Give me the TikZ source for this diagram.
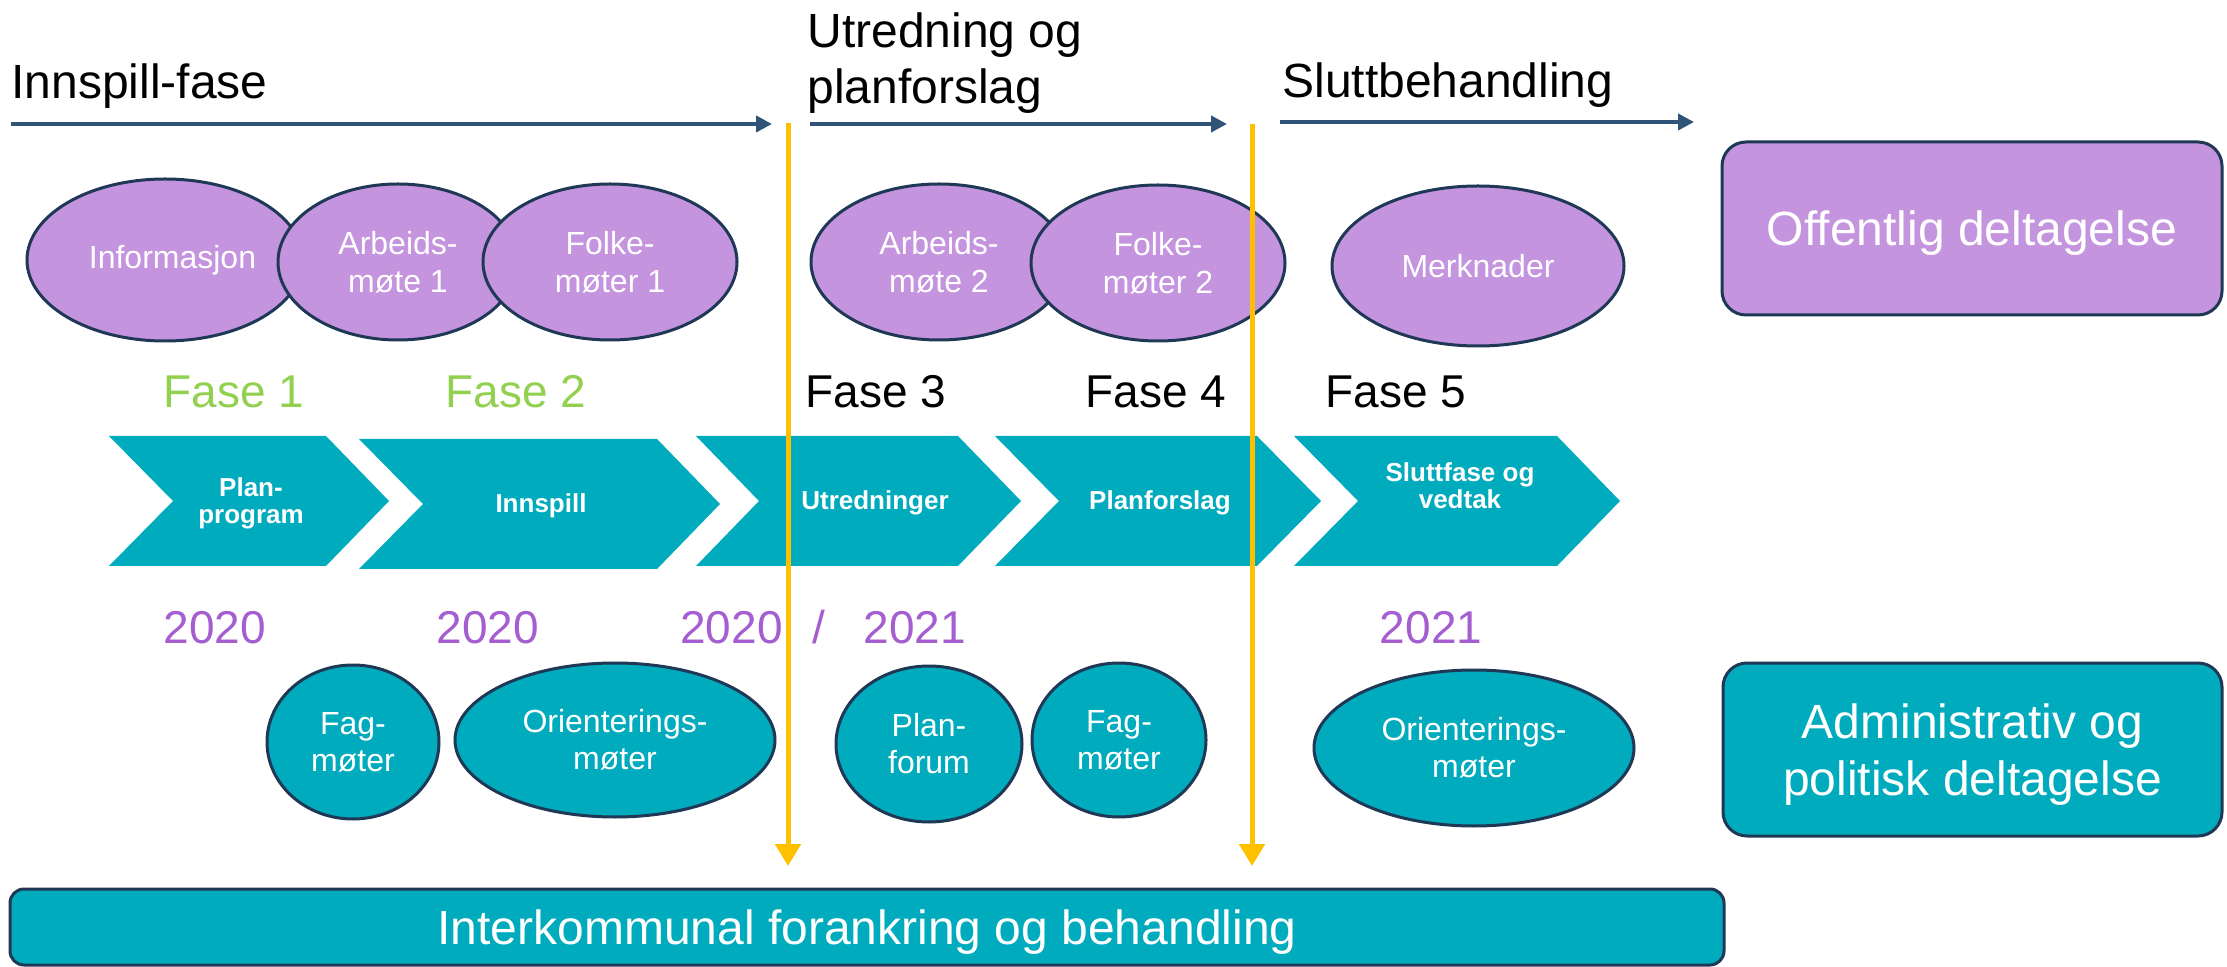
\documentclass[tikz,border=0pt]{standalone}
\usepackage{fontspec}
\setmainfont{Liberation Sans}
\usetikzlibrary{shapes.geometric,arrows.meta}
\definecolor{lilac}{RGB}{196,148,222}
\definecolor{navy}{RGB}{31,56,86}
\definecolor{tealc}{RGB}{0,171,189}
\definecolor{arrowblue}{RGB}{47,84,120}
\definecolor{gold}{RGB}{255,192,0}
\definecolor{fasegreen}{RGB}{146,208,80}
\definecolor{yearpurple}{RGB}{165,94,208}
\begin{document}
\begin{tikzpicture}[x=0.5pt,y=-0.5pt,
 pub/.style={ellipse, draw=navy, line width=1.5pt, fill=lilac, text=white, inner sep=0pt, align=center, font=\fontsize{16}{19}\selectfont},
 adm/.style={pub, fill=tealc, font=\fontsize{16}{18.5}\selectfont},
 chev/.style={fill=tealc},
 chevtext/.style={text=white, align=center, inner sep=0pt, font=\bfseries\fontsize{13}{13.5}\selectfont},
 title/.style={font=\fontsize{24}{28}\selectfont, align=left, inner sep=0pt},
 fase/.style={font=\fontsize{23}{28}\selectfont, inner sep=0pt, anchor=base},
 year/.style={font=\fontsize{23}{28}\selectfont, inner sep=0pt, anchor=base, text=yearpurple},
 bigbox/.style={rectangle, rounded corners=12pt, draw=navy, line width=1.5pt, text=white, align=center, inner sep=0pt, text depth=0pt, font=\fontsize{24}{28.5}\selectfont},
 phasearrow/.style={draw=arrowblue, line width=2pt, -{Triangle[width=8pt,length=8pt]}},
 gate/.style={draw=gold, line width=2.5pt, -{Triangle[width=12.5pt,length=11pt]}},
]
\useasboundingbox (0,0) rectangle (2227,967);

% titles
\node[title, anchor=base west] (t1) at (11,99) {Innspill-fase};
\node[title, anchor=west] (t2) at (807,63) {Utredning og\\planforslag};
\node[title, anchor=base west] (t3) at (1282,98) {Sluttbehandling};

% public participation ellipses
\node[pub, minimum width=138pt, minimum height=81pt] (info) at (165,260) {\hspace*{7.5pt}Informasjon};
\node[pub, minimum width=120pt, minimum height=78pt] (arb1) at (398,262) {Arbeids-\\møte 1};
\node[pub, minimum width=127pt, minimum height=78pt] (folk1) at (610,262) {Folke-\\møter 1};
\node[pub, minimum width=128pt, minimum height=78pt] (arb2) at (939,262) {Arbeids-\\møte 2};
\node[pub, minimum width=127pt, minimum height=78pt] (folk2) at (1158,263) {Folke-\\møter 2};
\node[pub, minimum width=146pt, minimum height=80pt] (merk) at (1478,266) {Merknader};

% phase labels
\node[fase, text=fasegreen] (f1) at (234,408) {Fase 1};
\node[fase, text=fasegreen] (f2) at (516,408) {Fase 2};
\node[fase] (f3) at (876,408) {Fase 3};
\node[fase] (f4) at (1156,408) {Fase 4};
\node[fase] (f5) at (1396,408) {Fase 5};

% chevrons
\fill[chev] (109,436) -- (326,436) -- (389,501) -- (326,566) -- (109,566) -- (173,501) -- cycle;
\fill[chev] (359,439) -- (657,439) -- (720,504) -- (657,569) -- (359,569) -- (423,504) -- cycle;
\fill[chev] (696,436) -- (958,436) -- (1021,501) -- (958,566) -- (696,566) -- (759,501) -- cycle;
\fill[chev] (995,436) -- (1257,436) -- (1321,501) -- (1257,566) -- (995,566) -- (1059,501) -- cycle;
\fill[chev] (1294,436) -- (1557,436) -- (1620,501) -- (1557,566) -- (1294,566) -- (1358,501) -- cycle;
\node[chevtext] (c1) at (251,503) {Plan-\\program};
\node[chevtext] (c2) at (541,506) {Innspill};
\node[chevtext] (c3) at (875,503) {Utredninger};
\node[chevtext] (c4) at (1160,503) {Planforslag};
\node[chevtext] (c5) at (1460,486) {Sluttfase og\\vedtak};

% years
\node[year] (y1) at (215,644) {2020};
\node[year] (y2) at (488,644) {2020};
\node[year, anchor=base west] (y3) at (680,644) {2020\hspace{15pt}/\hspace{19pt}2021};
\node[year] (y5) at (1431,644) {2021};

% administrative ellipses
\node[adm, minimum width=86pt, minimum height=77pt] (fag1) at (353,742) {Fag-\\møter};
\node[adm, minimum width=160pt, minimum height=77pt] (ori1) at (615,740) {Orienterings-\\møter};
\node[adm, minimum width=93pt, minimum height=78pt] (planf) at (929,744) {Plan-\\forum};
\node[adm, minimum width=87pt, minimum height=77pt] (fag2) at (1119,740) {Fag-\\møter};
\node[adm, minimum width=160pt, minimum height=78pt] (ori2) at (1474,748) {Orienterings-\\møter};

% side boxes and bottom bar
\node[bigbox, fill=lilac, minimum width=250pt, minimum height=86.5pt] (pubbox) at (1972,228.5) {Offentlig deltagelse};
\node[bigbox, fill=tealc, minimum width=249.5pt, minimum height=86.5pt] (admbox) at (1972.5,749.5) {Administrativ og\\politisk deltagelse};
\node[bigbox, fill=tealc, minimum width=857pt, minimum height=38pt, rounded corners=7pt] (bar) at (867,927) {Interkommunal forankring og behandling};

% top phase arrows
\coordinate (a1s) at (11,124);  \coordinate (a1e) at (772,124);
\coordinate (a2s) at (810,124); \coordinate (a2e) at (1227,124);
\coordinate (a3s) at (1280,122); \coordinate (a3e) at (1694,122);
\draw[phasearrow] (a1s) -- (a1e);
\draw[phasearrow] (a2s) -- (a2e);
\draw[phasearrow] (a3s) -- (a3e);

% gate arrows
\coordinate (g1s) at (788,123); \coordinate (g1e) at (788,866);
\coordinate (g2s) at (1252,124); \coordinate (g2e) at (1252,866);
\draw[gate] (g1s) -- (g1e);
\draw[gate] (g2s) -- (g2e);
\end{tikzpicture}
\end{document}
